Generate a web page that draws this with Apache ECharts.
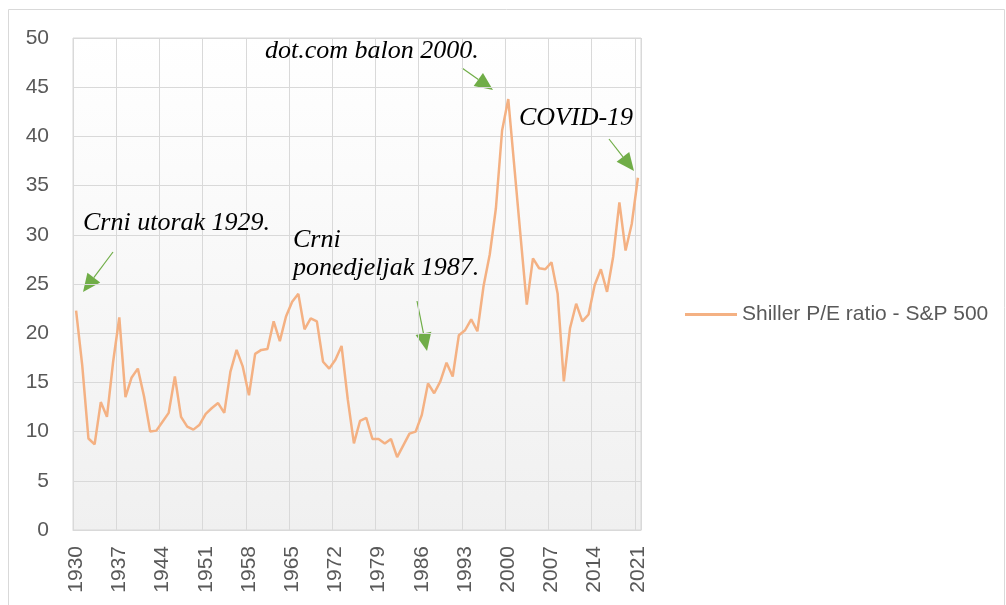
<!DOCTYPE html>
<html>
<head>
    <meta charset="utf-8">
    <title>Shiller P/E</title>
    <script src="https://cdn.jsdelivr.net/npm/echarts@6/dist/echarts.min.js"></script>
</head>
<body style="margin:0;background:#fff;">
<div id="main" style="width: 1006px;height:605px;"></div>
<script type="text/javascript">
// godine 1930 - 2021
var years = [];
for (var y = 1930; y <= 2021; y++) { years.push(String(y)); }

// Shiller P/E ratio - S&P 500 (procitano sa slike)
var peValues = [
    22.3, 16.7, 9.3, 8.7, 13.0, 11.5, 17.1, 21.6, 13.5, 15.5,
    16.4, 13.6, 10.0, 10.1, 11.0, 11.9, 15.6, 11.5, 10.5, 10.2,
    10.7, 11.8, 12.4, 12.9, 11.9, 16.1, 18.3, 16.6, 13.7, 17.9,
    18.3, 18.4, 21.2, 19.2, 21.7, 23.2, 24.0, 20.4, 21.5, 21.2,
    17.1, 16.4, 17.3, 18.7, 13.3, 8.8, 11.1, 11.4, 9.25, 9.25,
    8.8, 9.25, 7.4, 8.6, 9.8, 10.0, 11.7, 14.9, 13.9, 15.1,
    17.0, 15.6, 19.8, 20.3, 21.4, 20.2, 24.8, 28.0, 32.7, 40.6,
    43.8, 36.8, 29.8, 22.9, 27.6, 26.6, 26.5, 27.2, 24.0, 15.1,
    20.5, 23.0, 21.2, 21.9, 24.9, 26.5, 24.2, 27.8, 33.3, 28.4,
    31.1, 35.8
];

var seriesName = 'Shiller P/E ratio - S&P 500';

// natpisi na grafu
var notes = [
    { text: 'Crni utorak 1929.', x: 83, y: 223 },
    { text: 'dot.com balon 2000.', x: 265, y: 51 },
    { text: 'COVID-19', x: 519, y: 118 },
    { text: 'Crni', x: 293, y: 240 },
    { text: 'ponedjeljak 1987.', x: 293, y: 268 }
];

// strelice [x1, y1, x2, y2]
var arrows = [
    [113, 252, 83, 292],
    [462, 68, 493, 90],
    [609, 139, 634, 171],
    [417, 301, 427, 351]
];

var green = '#70ad47';

function arrowGraphic(a) {
    var dx = a[2] - a[0], dy = a[3] - a[1];
    var len = Math.sqrt(dx * dx + dy * dy);
    var ux = dx / len, uy = dy / len;
    var headLen = 18, headW = 8;
    var bx = a[2] - ux * headLen, by = a[3] - uy * headLen;
    return [{
        type: 'line',
        shape: { x1: a[0], y1: a[1], x2: bx, y2: by },
        style: { stroke: green, lineWidth: 1.2 }
    }, {
        type: 'polygon',
        shape: { points: [[a[2], a[3]], [bx - uy * headW, by + ux * headW], [bx + uy * headW, by - ux * headW]] },
        style: { fill: green }
    }];
}

var graphics = [{
    // okvir grafikona
    type: 'rect',
    shape: { x: 8.5, y: 9.5, width: 996, height: 620 },
    style: { fill: 'none', stroke: '#d9d9d9', lineWidth: 1 },
    z: -1
}];
notes.forEach(function (n) {
    graphics.push({
        type: 'text',
        style: {
            text: n.text, x: n.x, y: n.y,
            textVerticalAlign: 'middle',
            font: 'italic 26px "Liberation Serif", "DejaVu Serif", serif',
            fill: '#000'
        },
        z: 10
    });
});
arrows.forEach(function (a) {
    graphics = graphics.concat(arrowGraphic(a));
});

var myChart = echarts.init(document.getElementById('main'));

var option = {
    animation: false,
    textStyle: { fontFamily: '"Liberation Sans", Arial, sans-serif' },
    grid: {
        left: 73, right: 365, top: 38, bottom: 75,
        show: true,
        borderColor: '#d9d9d9',
        borderWidth: 1,
        backgroundColor: new echarts.graphic.LinearGradient(0, 0, 0, 1, [
            { offset: 0, color: '#ffffff' },
            { offset: 1, color: '#f0f0f0' }
        ])
    },
    legend: {
        data: [seriesName],
        orient: 'vertical',
        left: 680,
        top: 299,
        itemWidth: 52,
        itemHeight: 3,
        itemGap: 4,
        icon: 'rect',
        textStyle: { color: '#595959', fontSize: 21, fontFamily: '"Liberation Sans", Arial, sans-serif' }
    },
    xAxis: {
        type: 'category',
        data: years,
        boundaryGap: true,
        axisLine: { lineStyle: { color: '#d9d9d9' } },
        axisTick: { show: false },
        axisLabel: {
            interval: 6,
            rotate: 90,
            color: '#595959',
            fontSize: 21,
            margin: 16
        },
        splitLine: { show: true, interval: 6, lineStyle: { color: '#d9d9d9' } }
    },
    yAxis: {
        type: 'value',
        min: 0,
        max: 50,
        interval: 5,
        axisLine: { show: false },
        axisTick: { show: false },
        axisLabel: { color: '#595959', fontSize: 21, margin: 24 },
        splitLine: { lineStyle: { color: '#d9d9d9' } }
    },
    graphic: graphics,
    series: [{
        name: seriesName,
        type: 'line',
        data: peValues,
        symbol: 'none',
        lineStyle: { color: '#f4b183', width: 2.5 },
        itemStyle: { color: '#f4b183' }
    }]
};

myChart.setOption(option);
</script>
</body>
</html>
